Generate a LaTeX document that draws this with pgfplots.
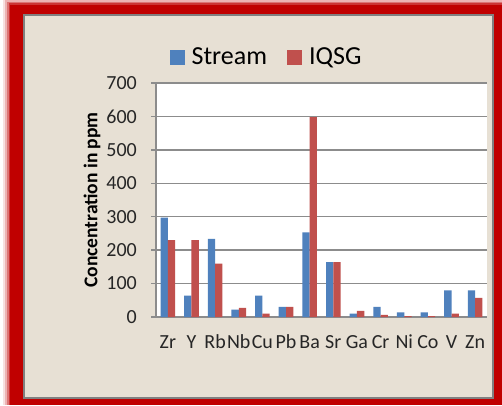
\documentclass[border=0pt]{standalone}
\usepackage{fontspec}
\setmainfont{Carlito}
\usepackage{pgfplots}
\pgfplotsset{compat=1.18}
\definecolor{sblue}{HTML}{4F81BD}
\definecolor{sred}{HTML}{C0504D}
\definecolor{beige}{HTML}{E7E0D4}
\definecolor{framered}{HTML}{C00000}
\definecolor{gridgray}{HTML}{8C8C8C}
\begin{document}
\begin{tikzpicture}
\useasboundingbox (0,0) rectangle (502pt,405pt);
\fill[white] (0,0) rectangle (502pt,405pt);
% soft shadow of the frame
\foreach \d/\o in {7/0.12,5/0.2,3/0.35,1.5/0.55}{
  \fill[framered,opacity=\o] (10pt-\d pt,0) rectangle (502pt,400pt+\d pt);
}
\fill[framered] (10pt,0) rectangle (502pt,400pt);
\filldraw[fill=beige,draw=gray,line width=2pt] (24pt,7pt) rectangle (493pt,390pt);
\begin{axis}[
  at={(156pt,88pt)}, anchor=south west,
  scale only axis, width=331pt, height=234pt,
  ybar=0pt, bar width=7.3pt,
  xmin=-0.5, xmax=13.5, ymin=0, ymax=700,
  ytick={0,100,...,700},
  xtick={0,...,13},
  xticklabels={Zr,Y,Rb,Nb,Cu,Pb,Ba,Sr,Ga,Cr,Ni,Co,V,Zn},
  axis x line*=bottom, axis y line*=left,
  axis line style={gridgray,line width=1.5pt,-},
  axis background/.style={fill=white},
  ymajorgrids, grid style={gridgray,line width=1.5pt},
  tick align=outside,
  ytick style={gridgray,line width=1.5pt}, major tick length=5pt,
  xtick style={draw=none},
  /pgf/number format/assume math mode=true,
  ticklabel style={font=\fontsize{20}{20}\selectfont, text=black!85},
  yticklabel style={inner sep=0pt, xshift=-14pt, anchor=east},
  xticklabel style={anchor=base, yshift=-26pt, inner sep=0pt},
  ylabel={Concentration in ppm},
  ylabel style={at={(axis description cs:-0.193,0.5)}, anchor=center, font=\fontsize{19.5}{19.5}\selectfont\bfseries},
  legend style={at={(axis description cs:0.334,1.11)}, anchor=center, draw=none, fill=none,
    font=\fontsize{26}{26}\selectfont, legend columns=2,
    /tikz/every even column/.append style={column sep=18pt},
    /tikz/every odd column/.append style={column sep=5pt},
    inner sep=0pt},
  legend image code/.code={\fill[#1,draw=none] (0pt,-7.5pt) rectangle (15pt,7.5pt);},
  enlargelimits=false, clip=false
]
\addplot[fill=sblue, draw=none] coordinates {
(0,297) (1,64) (2,234) (3,22) (4,64) (5,30) (6,253) (7,164) (8,10) (9,30) (10,14) (11,14) (12,80) (13,80)};
\addplot[fill=sred, draw=none] coordinates {
(0,230) (1,230) (2,160) (3,27) (4,10) (5,30) (6,598) (7,164) (8,18) (9,6) (10,3) (11,3) (12,10) (13,57)};
\legend{Stream,IQSG}
\end{axis}
\end{tikzpicture}
\end{document}
